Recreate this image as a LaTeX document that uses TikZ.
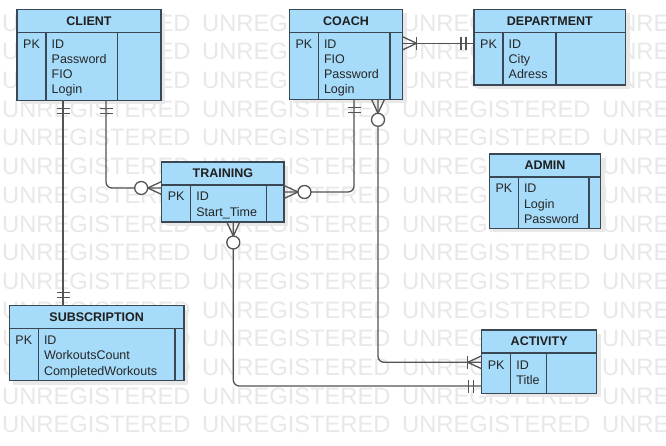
\documentclass[tikz,border=0pt]{standalone}
\usepackage{fontspec}
\setmainfont{Liberation Sans}
\usetikzlibrary{positioning,calc,shadows,decorations.markings}

\definecolor{entfill}{RGB}{166,219,249}
\definecolor{entborder}{RGB}{58,72,86}
\definecolor{connclr}{RGB}{84,84,84}
\definecolor{wmclr}{RGB}{232,232,232}

\tikzset{
  entbox/.style={rectangle, draw=entborder, fill=entfill, line width=1.4pt, inner sep=0pt, outer sep=0pt, anchor=north west,
    general shadow={fill=black!9, shadow xshift=4pt, shadow yshift=-4pt}},
  entline/.style={draw=entborder, line width=1.4pt},
  titletext/.style={inner sep=0pt, font=\fontsize{12.5}{15}\selectfont\bfseries, text=black!88},
  fieldtext/.style={inner sep=0pt, anchor=base west, font=\fontsize{12.5}{15}\selectfont, text=black!85},
  wmark/.style={inner sep=0pt, anchor=west, text=wmclr, font=\fontsize{23.7}{24}\selectfont},
  conn/.style={draw=connclr, line width=1.3pt, rounded corners=6pt},
  markline/.style={draw=connclr, line width=1.3pt},
  onlyone start/.style={postaction={decorate, decoration={markings, mark=at position 0 with {\barsmark}}}},
  onlyone end/.style={postaction={decorate, decoration={markings, mark=at position 1 with {\pgftransformxscale{-1}\barsmark}}}},
  zeromany start/.style={postaction={decorate, decoration={markings, mark=at position 0 with {\crowmark\ringmark}}}},
  zeromany end/.style={postaction={decorate, decoration={markings, mark=at position 1 with {\pgftransformxscale{-1}\crowmark\ringmark}}}},
  onemany start/.style={postaction={decorate, decoration={markings, mark=at position 0 with {\crowmark\apexbar}}}},
  onemany end/.style={postaction={decorate, decoration={markings, mark=at position 1 with {\pgftransformxscale{-1}\crowmark\apexbar}}}},
}

% connector ends, drawn along the line (x points away from the box)
\newcommand\barsmark{\draw[markline] (8pt,-6.5pt) -- (8pt,6.5pt) (13pt,-6.5pt) -- (13pt,6.5pt);}
\newcommand\crowmark{\draw[markline] (14pt,0pt) -- (0pt,6.5pt) (14pt,0pt) -- (0pt,-6.5pt);}
\newcommand\apexbar{\draw[markline] (14pt,-6.5pt) -- (14pt,6.5pt);}
\newcommand\ringmark{\draw[markline, fill=white] (20.5pt,0pt) circle (6.5pt);}

% name, x, y, width, height, field column, title, fields
\newcommand\entity[8]{%
  \node[entbox, minimum width=#4pt, minimum height=#5pt] (#1) at (#2,#3) {};
  \draw[entline] ([yshift=-23pt]#1.north west) -- ([yshift=-23pt]#1.north east);
  \draw[entline] ([xshift=29pt,yshift=-23pt]#1.north west) -- ([xshift=29pt]#1.south west);
  \draw[entline] ([xshift=#6pt,yshift=-23pt]#1.north west) -- ([xshift=#6pt]#1.south west);
  \node[titletext] (#1-title) at ([yshift=-11.5pt]#1.north) {#7};
  \node[fieldtext] (#1-pk) at ([xshift=6pt,yshift=-39pt]#1.north west) {PK};
  \foreach \f [count=\i from 0] in {#8}
    {\pgfmathsetmacro\dy{-39-15.2*\i}
     \node[fieldtext] (#1-f\i) at ([xshift=34.5pt,yshift=\dy pt]#1.north west) {\f};}
}

\begin{document}
\begin{tikzpicture}[x=1pt, y=-1pt]
  \useasboundingbox[fill=white] (0,0) rectangle (666,446);

  %%watermark
  \foreach \r in {0,...,14}
    \foreach \c in {0,...,3}
      \node[wmark] (wm-\r-\c) at (2+200*\c, 23+28.7*\r) {UNREGISTERED};

  %%entities
  \entity{client}{17}{9.3}{144}{91}{100.3}{CLIENT}{ID,Password,FIO,Login}
  \entity{coach}{289.3}{9.3}{113.4}{90}{100.7}{COACH}{ID,FIO,Password,Login}
  \entity{department}{474}{9.3}{151.7}{75.7}{82}{DEPARTMENT}{ID,City,Adress}
  \entity{training}{161.7}{162}{122.3}{60}{105}{TRAINING}{ID,Start\_Time}
  \entity{admin}{489.3}{154}{111.4}{74.3}{99.7}{ADMIN}{ID,Login,Password}
  \entity{subscription}{9.3}{305.7}{174.7}{75}{165.7}{SUBSCRIPTION}{ID,WorkoutsCount,CompletedWorkouts}
  \entity{activity}{481.7}{330}{115}{63.3}{65}{ACTIVITY}{ID,Title}

  %%attach points
  \coordinate (cl-sub) at ([xshift=46pt]client.south west);
  \coordinate (cl-tr) at ([xshift=89pt]client.south west);
  \coordinate (co-tr) at ([xshift=64.7pt]coach.south west);
  \coordinate (co-ac) at ([xshift=88.7pt]coach.south west);
  \coordinate (co-de) at ([yshift=-34pt]coach.north east);
  \coordinate (tr-cl) at ([yshift=4pt]training.west);
  \coordinate (tr-ac) at ([xshift=71.6pt]training.south west);
  \coordinate (ac-co) at ([yshift=-32.3pt]activity.north west);
  \coordinate (ac-tr) at ([yshift=-56pt]activity.north west);

  %%relations
  \draw[conn, onlyone start, onlyone end] (cl-sub) -- (cl-sub |- subscription.north);
  \draw[conn, onlyone start, zeromany end] (cl-tr) |- (tr-cl);
  \draw[conn, onlyone start, zeromany end] (co-tr) |- (training.east);
  \draw[conn, onemany start, onlyone end] (co-de) -- (co-de -| department.west);
  \draw[conn, zeromany start, onemany end] (co-ac) |- (ac-co);
  \draw[conn, zeromany start, onlyone end] (tr-ac) |- (ac-tr);

\end{tikzpicture}
\end{document}
